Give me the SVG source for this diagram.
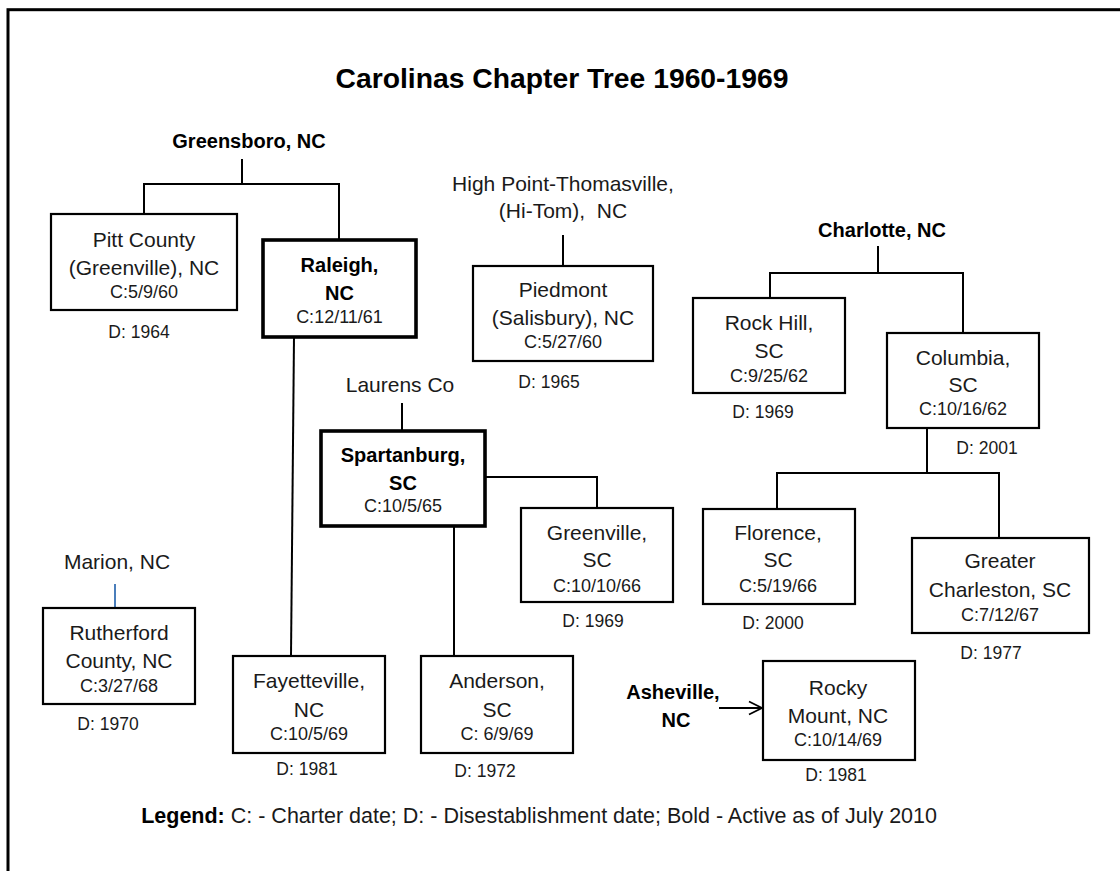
<svg xmlns="http://www.w3.org/2000/svg" width="1120" height="871" viewBox="0 0 1120 871">
<style>
text{font-family:"Liberation Sans",Arial,sans-serif;fill:#1a1a1a;text-anchor:middle}
.n{font-size:21px}
.b{font-size:20px;font-weight:bold;fill:#000}
.c{font-size:18px}
.d{font-size:17.5px}
.box{fill:#fff;stroke:#000;stroke-width:2.2}
.act{fill:#fff;stroke:#000;stroke-width:3.6}
.ln{fill:none;stroke:#000;stroke-width:2}
</style>
<defs>
<marker id="arr" markerWidth="16" markerHeight="16" refX="14" refY="8" orient="auto" markerUnits="userSpaceOnUse">
<path d="M1,1.5 L14,8 L1,14.5" fill="none" stroke="#000" stroke-width="1.8"/>
</marker>
</defs>
<rect width="1120" height="871" fill="#fff"/>
<rect x="8" y="9.7" width="1200" height="1000" fill="none" stroke="#000" stroke-width="3"/>
<text x="562" y="88" style="font-size:28.3px;font-weight:bold;fill:#000">Carolinas Chapter Tree 1960-1969</text>

<g id="connectors">
<path class="ln" d="M242,159 V184 M144,214 V184 H339 V240"/>
<path class="ln" d="M294,337 L291,656"/>
<path class="ln" d="M563,235 V266"/>
<path class="ln" d="M878,246 V273 M770,298 V273 H963 V333"/>
<path class="ln" d="M927,428 V473 M777,509 V473 H999 V538"/>
<path class="ln" d="M402,403 V431"/>
<path class="ln" d="M485,477 H597 V508"/>
<path class="ln" d="M454,526 V656"/>
<path d="M115,584 V609" fill="none" stroke="#4a7ebb" stroke-width="2"/>
<path class="ln" d="M719,708 H762" marker-end="url(#arr)"/>
</g>

<g id="greensboro"><text class="b" x="249" y="148">Greensboro, NC</text></g>
<g id="highpoint"><text class="n" x="563" y="191">High Point-Thomasville,</text><text class="n" x="563" y="218">(Hi-Tom),&#160; NC</text></g>
<g id="charlotte"><text class="b" x="882" y="237">Charlotte, NC</text></g>
<g id="laurens"><text class="n" x="400" y="392">Laurens Co</text></g>
<g id="marion"><text class="n" x="117" y="569">Marion, NC</text></g>
<g id="asheville"><text class="b" x="673" y="699">Asheville,</text><text class="b" x="676" y="727">NC</text></g>

<g id="pitt">
<rect class="box" x="51" y="214" width="186" height="96"/>
<text class="n" x="144" y="247">Pitt County</text>
<text class="n" x="144" y="275">(Greenville), NC</text>
<text class="c" x="144" y="298">C:5/9/60</text>
<text class="d" x="139" y="338">D: 1964</text>
</g>

<g id="raleigh">
<rect class="act" x="263" y="240" width="153" height="97"/>
<text class="b" x="339.5" y="272">Raleigh,</text>
<text class="b" x="339.5" y="300">NC</text>
<text class="c" x="339.5" y="323">C:12/11/61</text>
</g>

<g id="piedmont">
<rect class="box" x="473" y="266" width="180" height="95"/>
<text class="n" x="563" y="297">Piedmont</text>
<text class="n" x="563" y="325">(Salisbury), NC</text>
<text class="c" x="563" y="348">C:5/27/60</text>
<text class="d" x="549" y="388">D: 1965</text>
</g>

<g id="rockhill">
<rect class="box" x="693" y="298" width="152" height="95"/>
<text class="n" x="769" y="330">Rock Hill,</text>
<text class="n" x="769" y="358">SC</text>
<text class="c" x="769" y="382">C:9/25/62</text>
<text class="d" x="763" y="418">D: 1969</text>
</g>

<g id="columbia">
<rect class="box" x="887" y="333" width="152" height="95"/>
<text class="n" x="963" y="365">Columbia,</text>
<text class="n" x="963" y="392">SC</text>
<text class="c" x="963" y="415">C:10/16/62</text>
<text class="d" x="987" y="454">D: 2001</text>
</g>

<g id="spartanburg">
<rect class="act" x="321" y="431" width="164" height="95"/>
<text class="b" x="403" y="462">Spartanburg,</text>
<text class="b" x="403" y="490">SC</text>
<text class="c" x="403" y="512">C:10/5/65</text>
</g>

<g id="greenville">
<rect class="box" x="521" y="508" width="152" height="94"/>
<text class="n" x="597" y="540">Greenville,</text>
<text class="n" x="597" y="567">SC</text>
<text class="c" x="597" y="592">C:10/10/66</text>
<text class="d" x="593" y="627">D: 1969</text>
</g>

<g id="florence">
<rect class="box" x="703" y="509" width="152" height="95"/>
<text class="n" x="778" y="540">Florence,</text>
<text class="n" x="778" y="567">SC</text>
<text class="c" x="778" y="592">C:5/19/66</text>
<text class="d" x="773" y="629">D: 2000</text>
</g>

<g id="charleston">
<rect class="box" x="912" y="538" width="177" height="95"/>
<text class="n" x="1000" y="568">Greater</text>
<text class="n" x="1000" y="597">Charleston, SC</text>
<text class="c" x="1000" y="621">C:7/12/67</text>
<text class="d" x="991" y="659">D: 1977</text>
</g>

<g id="rutherford">
<rect class="box" x="43" y="608" width="152" height="96"/>
<text class="n" x="119" y="640">Rutherford</text>
<text class="n" x="119" y="668">County, NC</text>
<text class="c" x="119" y="692">C:3/27/68</text>
<text class="d" x="108" y="730">D: 1970</text>
</g>

<g id="fayetteville">
<rect class="box" x="233" y="656" width="152" height="97"/>
<text class="n" x="309" y="688">Fayetteville,</text>
<text class="n" x="309" y="717">NC</text>
<text class="c" x="309" y="740">C:10/5/69</text>
<text class="d" x="307" y="775">D: 1981</text>
</g>

<g id="anderson">
<rect class="box" x="421" y="656" width="152" height="97"/>
<text class="n" x="497" y="688">Anderson,</text>
<text class="n" x="497" y="717">SC</text>
<text class="c" x="497" y="740">C: 6/9/69</text>
<text class="d" x="485" y="777">D: 1972</text>
</g>

<g id="rockymount">
<rect class="box" x="763" y="661" width="152" height="99"/>
<text class="n" x="838" y="695">Rocky</text>
<text class="n" x="838" y="723">Mount, NC</text>
<text class="c" x="838" y="746">C:10/14/69</text>
<text class="d" x="836" y="781">D: 1981</text>
</g>

<g id="legend">
<text x="937" y="823" style="font-size:21.5px;text-anchor:end"><tspan style="font-weight:bold;fill:#000">Legend:</tspan> C: - Charter date; D: - Disestablishment date; Bold - Active as of July 2010</text>
</g>
</svg>
